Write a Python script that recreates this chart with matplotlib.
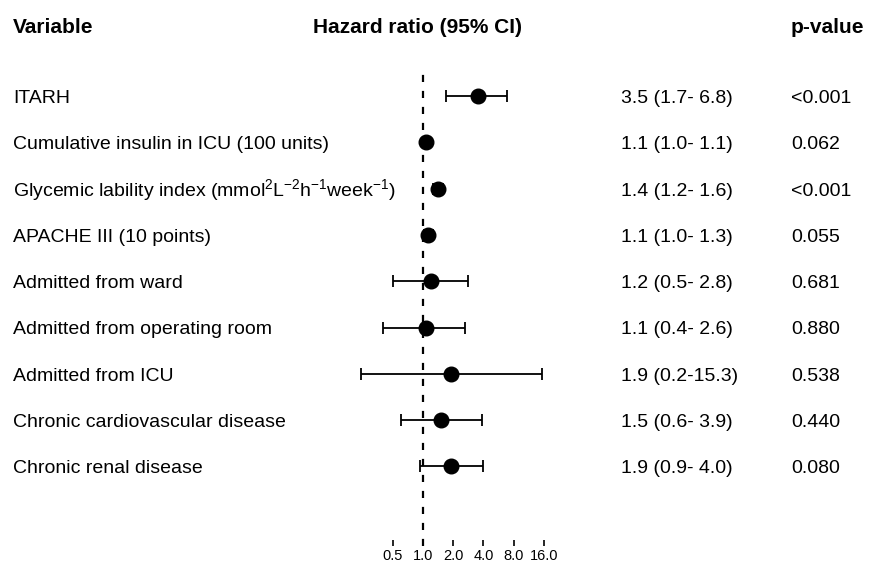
import numpy as np
import matplotlib
matplotlib.use('Agg')
import matplotlib.pyplot as plt

plt.rcParams['mathtext.fontset'] = 'custom'
plt.rcParams['mathtext.rm'] = 'Liberation Sans'
plt.rcParams['mathtext.it'] = 'Liberation Sans:italic'
plt.rcParams['mathtext.bf'] = 'Liberation Sans:bold'

# datos de la tabla
variables = ['ITARH',
             'Cumulative insulin in ICU (100 units)',
             r'Glycemic lability index (mmol$^{2}$L$^{-2}$h$^{-1}$week$^{-1}$)',
             'APACHE III (10 points)',
             'Admitted from ward',
             'Admitted from operating room',
             'Admitted from ICU',
             'Chronic cardiovascular disease',
             'Chronic renal disease']
hr = [3.5, 1.06, 1.4, 1.12, 1.2, 1.08, 1.9, 1.5, 1.9]
ci_low = [1.7, 1.02, 1.25, 1.02, 0.5, 0.4, 0.24, 0.6, 0.93]
ci_high = [6.8, 1.1, 1.6, 1.25, 2.8, 2.6, 15.3, 3.9, 4.0]
hr_text = ['3.5 (1.7- 6.8)', '1.1 (1.0- 1.1)', '1.4 (1.2- 1.6)', '1.1 (1.0- 1.3)',
           '1.2 (0.5- 2.8)', '1.1 (0.4- 2.6)', '1.9 (0.2-15.3)', '1.5 (0.6- 3.9)',
           '1.9 (0.9- 4.0)']
p_text = ['<0.001', '0.062', '<0.001', '0.055', '0.681', '0.880', '0.538', '0.440', '0.080']
ticks = [0.5, 1, 2, 4, 8, 16]
tick_labels = ['0.5', '1.0', '2.0', '4.0', '8.0', '16.0']

W, H = 871, 562
fig = plt.figure(figsize=(W / 100, H / 100), dpi=100)
fam = ['Liberation Sans', 'DejaVu Sans']

# ejes del forest plot (en pixeles de la figura)
x1 = 423  # posicion de HR = 1
ppd = 30.2  # pixeles por duplicacion
xmin, xmax = 2 ** -2.5, 2 ** 4.2
left = x1 + ppd * np.log2(xmin)
right = x1 + ppd * np.log2(xmax)
top, bottom = 69, 546
ax = fig.add_axes([left / W, 1 - bottom / H, (right - left) / W, (bottom - top) / H])
ax.set_xscale('log', base=2)
ax.set_xlim(xmin, xmax)
row0, step = 96, 46.3
ax.set_ylim((bottom - row0) / step, (top - row0) / step)

y = np.arange(len(variables))
hr_a = np.array(hr)
err = [hr_a - np.array(ci_low), np.array(ci_high) - hr_a]
ax.axvline(1, color='black', lw=1.6, ls=(0, (3.2, 4.0)), zorder=1)
ax.errorbar(hr_a, y, xerr=err, fmt='o', color='black', ms=10.5, elinewidth=1.3,
            capsize=4.5, capthick=1.3, zorder=3)

for s in ax.spines.values():
    s.set_visible(False)
ax.set_yticks([])
ax.set_xticks(ticks)
ax.set_xticklabels(tick_labels, fontsize=10.5, family=fam)
ax.minorticks_off()
ax.tick_params(axis='x', direction='in', length=4, width=1.2, pad=2, color='black')
ax.patch.set_alpha(0)

def px(xp, yp):
    return xp / W, 1 - yp / H

# textos
for i in range(len(variables)):
    yp = row0 + step * i + 7
    fig.text(*px(13, yp), variables[i], fontsize=14, family=fam, va='baseline', ha='left')
    fig.text(*px(621, yp), hr_text[i], fontsize=14, family=fam, va='baseline', ha='left')
    fig.text(*px(791, yp), p_text[i], fontsize=14, family=fam, va='baseline', ha='left')

fig.text(*px(13, 33), 'Variable', fontsize=15, weight='bold', family=fam, va='baseline')
fig.text(*px(417, 33), 'Hazard ratio (95% CI)', fontsize=15, weight='bold', family=fam,
         va='baseline', ha='center')
fig.text(*px(791, 33), 'p-value', fontsize=15, weight='bold', family=fam, va='baseline')

fig.savefig('out.png', dpi=100)
